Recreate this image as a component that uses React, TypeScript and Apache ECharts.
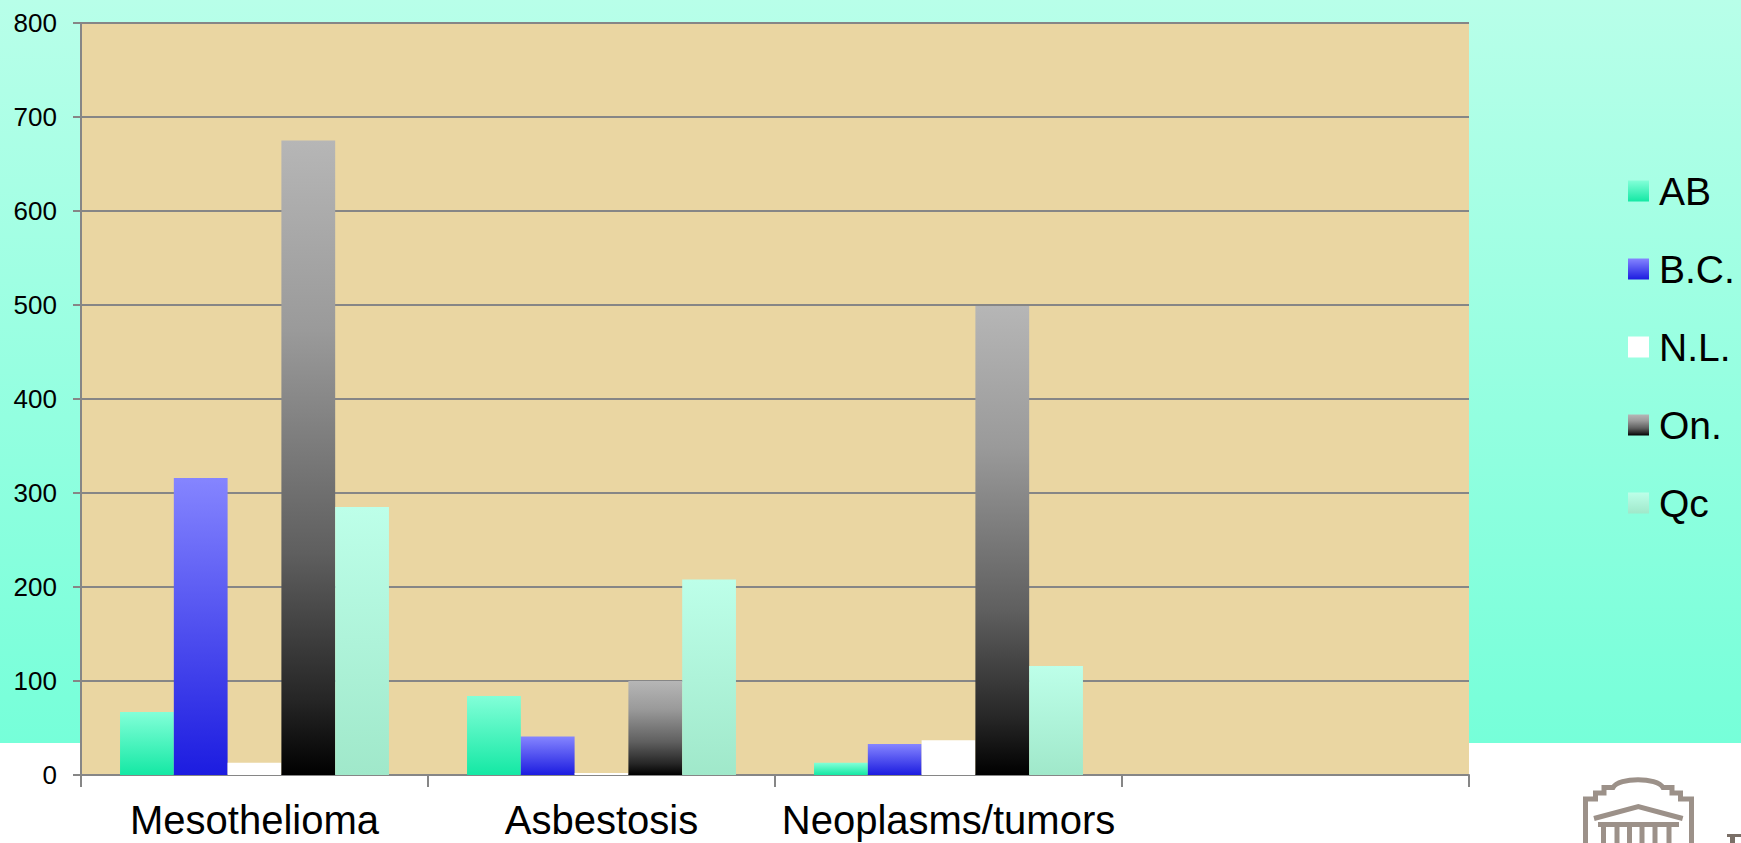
import React, { useEffect, useRef } from "react";
import * as echarts from "echarts";

const categories = ["Mesothelioma", "Asbestosis", "Neoplasms/tumors", ""];
const seriesNames = ["AB", "B.C.", "N.L.", "On.", "Qc"];
const valuesAB = [67, 84, 13, null];
const valuesBC = [316, 41, 33, null];
const valuesNL = [13, 2, 37, null];
const valuesOn = [675, 100, 499, null];
const valuesQc = [285, 208, 116, null];
const yTicks = { min: 0, max: 800, interval: 100 };

const FONT = "'Liberation Sans', Arial, sans-serif";

const grad = (stops: [number, string][]) => ({
  type: "linear",
  x: 0,
  y: 0,
  x2: 0,
  y2: 1,
  colorStops: stops.map(([offset, color]) => ({ offset, color })),
});

const seriesColors = [
  grad([[0, "#82ffd8"], [1, "#14e8a4"]]),
  grad([[0, "#8585ff"], [1, "#1c1ce0"]]),
  "#ffffff",
  grad([[0, "#b6b6b6"], [0.3, "#9a9a9a"], [0.65, "#5f5f5f"], [0.88, "#262626"], [1, "#000000"]]),
  grad([[0, "#bdffe9"], [1, "#a0e8ca"]]),
];

const seriesValues = [valuesAB, valuesBC, valuesNL, valuesOn, valuesQc];

const LOGO_D =
  "M2.5 70 L2.5 19 L12.5 19 L12.5 13 L21 13 L21 7.5 L30 7.5 C36 -3 74 -3 80 7.5 L89 7.5 L89 13 L97.5 13 L97.5 19 L108.5 19 L108.5 70 " +
  "M11 38.5 L55.3 26.5 L99.7 38.5 " +
  "M15 44.5 L96 44.5 " +
  "M20.5 47 L20.5 70 M34 47 L34 70 M46.5 47 L46.5 70 M59 47 L59 70 M72 47 L72 70 M86 47 L86 70";

let logoRegistered = false;

export default function App() {
  const ref = useRef<HTMLDivElement>(null);

  useEffect(() => {
    document.body.style.margin = "0";
    if (!logoRegistered) {
      echarts.graphic.registerShape("logo", (echarts.graphic as any).extendPath(LOGO_D, {}));
      logoRegistered = true;
    }
    const chart = echarts.init(ref.current!, null, { renderer: "svg" });
    const option: any = {
      animation: false,
      backgroundColor: {
        type: "linear",
        x: 0,
        y: 0,
        x2: 0,
        y2: 1,
        colorStops: [
          { offset: 0, color: "#b8ffe9" },
          { offset: 0.8813, color: "#76ffd9" },
          { offset: 0.8814, color: "#ffffff" },
          { offset: 1, color: "#ffffff" },
        ],
      },
      textStyle: { fontFamily: FONT },
      grid: {
        left: 81,
        top: 23,
        right: 272,
        bottom: 68,
        show: true,
        backgroundColor: "#ead6a2",
        borderWidth: 0,
      },
      legend: {
        orient: "vertical",
        left: 1623,
        top: 166,
        icon: "rect",
        itemWidth: 21,
        itemHeight: 21,
        itemGap: 38,
        data: seriesNames,
        textStyle: {
          fontFamily: FONT,
          fontSize: 39,
          lineHeight: 40,
          color: "#000",
          padding: [0, 0, 0, 5],
        },
      },
      xAxis: {
        type: "category",
        data: categories,
        axisLine: { show: true, lineStyle: { color: "#868686", width: 2 } },
        axisTick: { show: true, length: 12, interval: 0, lineStyle: { color: "#868686", width: 2 } },
        axisLabel: { fontFamily: FONT, fontSize: 40, color: "#000", margin: 25, interval: 0 },
        splitLine: { show: false },
      },
      yAxis: {
        type: "value",
        min: yTicks.min,
        max: yTicks.max,
        interval: yTicks.interval,
        axisLine: { show: true, lineStyle: { color: "#868686", width: 2 } },
        axisTick: { show: true, length: 8, lineStyle: { color: "#868686", width: 2 } },
        axisLabel: { fontFamily: FONT, fontSize: 26, color: "#000", margin: 24 },
        splitLine: { show: true, lineStyle: { color: "#868686", width: 2 } },
      },
      series: seriesNames.map((name, i) => ({
        name,
        type: "bar",
        data: seriesValues[i],
        barGap: "0%",
        barCategoryGap: "22.5%",
        itemStyle: { color: seriesColors[i] },
        emphasis: { disabled: true },
      })),
      graphic: [
        {
          type: "logo",
          x: 1583,
          y: 780,
          z: 100,
          style: { fill: "none", stroke: "#9c9189", lineWidth: 5 },
        },
        {
          type: "rect",
          z: 100,
          shape: { x: 1727, y: 834, width: 14, height: 3 },
          style: { fill: "#7a6f67" },
        },
        {
          type: "rect",
          z: 100,
          shape: { x: 1730, y: 834, width: 5, height: 9 },
          style: { fill: "#7a6f67" },
        },
      ],
    };
    chart.setOption(option);
    return () => chart.dispose();
  }, []);

  return (
    <div
      ref={ref}
      style={{ position: "fixed", left: 0, top: 0, width: 1741, height: 843 }}
    />
  );
}
